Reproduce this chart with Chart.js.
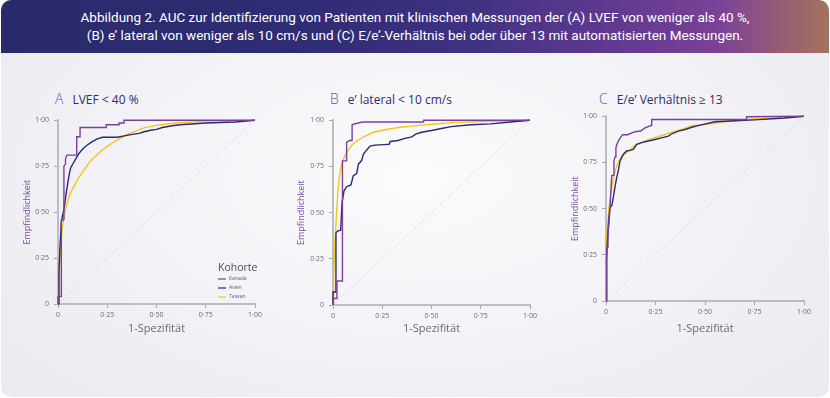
<!DOCTYPE html>
<html lang="de">
<head>
<meta charset="utf-8">
<script src="https://cdn.jsdelivr.net/npm/chart.js@4.4.1/dist/chart.umd.min.js"></script>
<style>
  body { margin: 0; width: 830px; height: 398px; background: #fff; position: relative; overflow: hidden; font-family: 'Open Sans', sans-serif; }
  #panel { position: absolute; left: 1px; top: 0; width: 828px; height: 397px; border-radius: 10px; overflow: hidden;
           background: radial-gradient(ellipse 60% 70% at 50% 45%, #fbfbfd 0%, #f4f4f8 50%, #ebebf1 100%); }
  #header { position: absolute; left: 0; top: 0; width: 828px; height: 53px; color: #fff; text-align: center;
            font-family: Roboto, sans-serif; font-size: 13.5px; line-height: 18px; padding-top: 8px; box-sizing: border-box;
            background: linear-gradient(90deg, #2a2a6c 0%, #2e2c72 35%, #3d3180 55%, #623a90 75%, #7b4296 87%, #9a6070 95%, #a3735e 100%); }
  .ptitle { position: absolute; top: 87px; white-space: nowrap; }
  .ptitle .letter { color: #7b4aa0; font-size: 14px; font-weight: 300; margin-right: 9px; }
  .ptitle .txt { color: #2f2c6e; font-size: 12px; }
  canvas { position: absolute; }
</style>
</head>
<body>
<div id="panel">
  <div id="header">Abbildung 2. AUC zur Identifizierung von Patienten mit klinischen Messungen der (A) LVEF von weniger als 40 %,<br>(B) e’ lateral von weniger als 10 cm/s und (C) E/e’-Verhältnis bei oder über 13 mit automatisierten Messungen.</div>
</div>
<div class="ptitle" style="left:55px"><span class="letter">A</span><span class="txt">LVEF &lt; 40 %</span></div>
<div class="ptitle" style="left:330px"><span class="letter">B</span><span class="txt">e’ lateral &lt; 10 cm/s</span></div>
<div class="ptitle" style="left:599px"><span class="letter">C</span><span class="txt">E/e’ Verhältnis ≥ 13</span></div>
<canvas id="chartA" width="245" height="224" style="left:20px;top:111px"></canvas>
<canvas id="chartB" width="246" height="224" style="left:294px;top:111px"></canvas>
<canvas id="chartC" width="246" height="228" style="left:568px;top:107px"></canvas>
<script>
// Kohorten und Achsen
const cohorts = ['Kanada', 'Asien', 'Taiwan'];
const tickValues = [0, 0.25, 0.5, 0.75, 1];
const tickLabels = ['0', '0·25', '0·50', '0·75', '1·00'];
const xTitle = '1-Spezifität';
const yTitle = 'Empfindlichkeit';
const diagonal = [[0, 0], [1, 1]];

// ROC-Kurven [1-Spezifität, Empfindlichkeit] - (A) LVEF < 40 %
const lvefKanada = [[0,0],[0,0.04],[0.017,0.04],[0.017,0.45],[0.03,0.46],[0.03,0.75],[0.038,0.76],[0.038,0.79],[0.045,0.81],[0.095,0.81],[0.095,0.91],[0.112,0.91],[0.112,0.96],[0.245,0.96],[0.245,0.975],[0.31,0.975],[0.31,0.985],[0.335,0.985],[0.335,1],[1,1]];
const lvefAsien = [[0,0],[0.005,0.18],[0.01,0.31],[0.017,0.45],[0.027,0.5],[0.034,0.54],[0.041,0.6],[0.047,0.64],[0.056,0.7],[0.064,0.74],[0.078,0.767],[0.09,0.79],[0.107,0.82],[0.129,0.847],[0.149,0.865],[0.174,0.883],[0.2,0.898],[0.225,0.907],[0.3,0.907],[0.343,0.916],[0.377,0.923],[0.411,0.928],[0.437,0.937],[0.47,0.945],[0.5,0.95],[0.53,0.96],[0.58,0.97],[0.62,0.975],[0.75,0.985],[0.9,0.99],[1,1]];
const lvefTaiwan = [[0,0],[0.003,0.05],[0.008,0.22],[0.014,0.31],[0.02,0.4],[0.03,0.47],[0.044,0.54],[0.061,0.6],[0.081,0.64],[0.107,0.69],[0.132,0.73],[0.166,0.78],[0.2,0.815],[0.233,0.845],[0.276,0.877],[0.318,0.903],[0.36,0.927],[0.403,0.945],[0.437,0.958],[0.5,0.972],[0.6,0.985],[0.75,0.995],[1,1]];

// (B) e' lateral < 10 cm/s
const lateralKanada = [[0,0],[0,0.035],[0.02,0.035],[0.02,0.13],[0.048,0.13],[0.048,0.78],[0.069,0.78],[0.069,0.88],[0.083,0.89],[0.097,0.89],[0.097,0.977],[0.15,0.99],[0.46,0.99],[0.46,1],[1,1]];
const lateralAsien = [[0,0],[0,0.07],[0.015,0.07],[0.015,0.39],[0.022,0.4],[0.039,0.405],[0.046,0.555],[0.056,0.618],[0.069,0.64],[0.091,0.65],[0.103,0.7],[0.12,0.711],[0.129,0.762],[0.146,0.783],[0.154,0.815],[0.171,0.839],[0.188,0.86],[0.213,0.865],[0.26,0.868],[0.285,0.87],[0.29,0.885],[0.33,0.89],[0.36,0.9],[0.4,0.91],[0.42,0.925],[0.45,0.935],[0.5,0.944],[0.55,0.955],[0.6,0.965],[0.7,0.975],[0.8,0.98],[0.9,0.99],[1,1]];
const lateralTaiwan = [[0,0],[0.002,0.045],[0.005,0.15],[0.008,0.3],[0.012,0.385],[0.019,0.51],[0.025,0.618],[0.032,0.69],[0.042,0.753],[0.056,0.797],[0.073,0.833],[0.095,0.864],[0.12,0.887],[0.154,0.909],[0.205,0.935],[0.272,0.95],[0.34,0.962],[0.4,0.968],[0.5,0.978],[0.6,0.987],[0.75,0.993],[1,1]];

// (C) E/e' >= 13
const ratioKanada = [[0,0],[0.003,0.29],[0.01,0.29],[0.01,0.36],[0.015,0.42],[0.02,0.5],[0.025,0.6],[0.029,0.68],[0.04,0.68],[0.04,0.76],[0.046,0.78],[0.05,0.83],[0.056,0.85],[0.062,0.866],[0.07,0.88],[0.084,0.9],[0.11,0.9],[0.146,0.916],[0.175,0.92],[0.197,0.937],[0.231,0.951],[0.231,0.982],[0.71,0.982],[0.71,0.997],[1,1]];
const ratioAsien = [[0,0],[0.003,0.22],[0.008,0.346],[0.015,0.453],[0.02,0.507],[0.029,0.515],[0.037,0.561],[0.045,0.615],[0.054,0.668],[0.062,0.704],[0.071,0.758],[0.088,0.794],[0.104,0.812],[0.121,0.815],[0.138,0.82],[0.155,0.848],[0.18,0.857],[0.214,0.866],[0.247,0.874],[0.281,0.883],[0.315,0.892],[0.332,0.905],[0.365,0.919],[0.399,0.928],[0.433,0.94],[0.47,0.95],[0.55,0.97],[0.65,0.975],[0.75,0.98],[0.9,0.99],[1,1]];
const ratioTaiwan = [[0,0],[0.002,0.22],[0.005,0.346],[0.01,0.435],[0.015,0.507],[0.024,0.579],[0.034,0.64],[0.042,0.686],[0.054,0.73],[0.066,0.758],[0.079,0.785],[0.096,0.797],[0.113,0.812],[0.13,0.826],[0.146,0.842],[0.172,0.853],[0.197,0.866],[0.231,0.88],[0.264,0.889],[0.298,0.901],[0.332,0.914],[0.365,0.923],[0.399,0.934],[0.433,0.948],[0.5,0.955],[0.6,0.97],[0.75,0.985],[0.9,0.99],[1,1]];

const cohortColors = ['#7b3f9e', '#2b2970', '#f5c518'];

// Legende "Kohorte" im Diagramm A
const kohortePlugin = {
    id: 'kohorte',
    afterDraw(chart) {
        const ctx = chart.ctx;
        const area = chart.chartArea;
        const x0 = area.left + 160;
        ctx.save();
        ctx.fillStyle = '#4a4a52';
        ctx.font = '10.5px "Open Sans"';
        ctx.textBaseline = 'middle';
        ctx.fillText('Kohorte', x0, area.bottom - 35.5);
        ctx.font = '5px "Open Sans"';
        cohorts.forEach((name, i) => {
            const y = area.bottom - 25 + i * 9;
            ctx.strokeStyle = cohortColors[i];
            ctx.lineWidth = 1.2;
            ctx.beginPath();
            ctx.moveTo(x0, y);
            ctx.lineTo(x0 + 8, y);
            ctx.stroke();
            ctx.fillStyle = '#5a5a62';
            ctx.fillText(name, x0 + 11, y);
        });
        ctx.restore();
    }
};

function makeChart(id, series, yWidth, xHeight, withLegend) {
    const datasets = series.map((pts, i) => ({
        label: cohorts[i],
        data: pts.map(p => ({ x: p[0], y: p[1] })),
        showLine: true,
        borderColor: cohortColors[i],
        borderWidth: 1.4,
        pointRadius: 0,
        tension: 0,
        clip: 3
    }));
    datasets.push({
        label: 'Referenz',
        data: diagonal.map(p => ({ x: p[0], y: p[1] })),
        showLine: true,
        borderColor: '#cfcfd6',
        borderWidth: 1,
        borderDash: [1.5, 2],
        pointRadius: 0
    });
    const axisTicks = {
        font: { family: 'Open Sans', size: 7 },
        color: '#6b6b75',
        callback: (v) => tickLabels[tickValues.indexOf(v)]
    };
    return new Chart(document.getElementById(id), {
        type: 'scatter',
        data: { datasets: datasets },
        plugins: withLegend ? [kohortePlugin] : [],
        options: {
            responsive: false,
            animation: false,
            layout: { padding: { left: 0, top: 8, right: 10, bottom: 0 } },
            plugins: { legend: { display: false }, tooltip: { enabled: false } },
            scales: {
                x: {
                    type: 'linear', min: 0, max: 1,
                    afterBuildTicks: (s) => { s.ticks = tickValues.map(v => ({ value: v })); },
                    afterFit: (s) => { s.height = xHeight; },
                    ticks: Object.assign({ padding: 3, maxRotation: 0, autoSkip: false }, axisTicks),
                    grid: { drawOnChartArea: false, drawTicks: true, tickLength: 4, color: '#a5a5ae' },
                    border: { display: true, color: '#bcbcc4', width: 2 },
                    title: { display: true, text: xTitle, color: '#6a6a72', font: { family: 'Open Sans', size: 11 }, padding: 0 }
                },
                y: {
                    type: 'linear', min: 0, max: 1,
                    afterBuildTicks: (s) => { s.ticks = tickValues.map(v => ({ value: v })); },
                    afterFit: (s) => { s.width = yWidth; },
                    ticks: Object.assign({ padding: 5 }, axisTicks),
                    grid: { drawOnChartArea: false, drawTicks: true, tickLength: 4, color: '#a5a5ae' },
                    border: { display: true, color: '#bcbcc4', width: 2 },
                    title: { display: true, text: yTitle, color: '#7b4aa0', font: { family: 'Open Sans', size: 9 }, padding: { top: 2, bottom: 0 } }
                }
            }
        }
    });
}

makeChart('chartA', [lvefKanada, lvefAsien, lvefTaiwan], 38, 31, true);
makeChart('chartB', [lateralKanada, lateralAsien, lateralTaiwan], 39, 30, false);
makeChart('chartC', [ratioKanada, ratioAsien, ratioTaiwan], 38, 34, false);
</script>
</body>
</html>
